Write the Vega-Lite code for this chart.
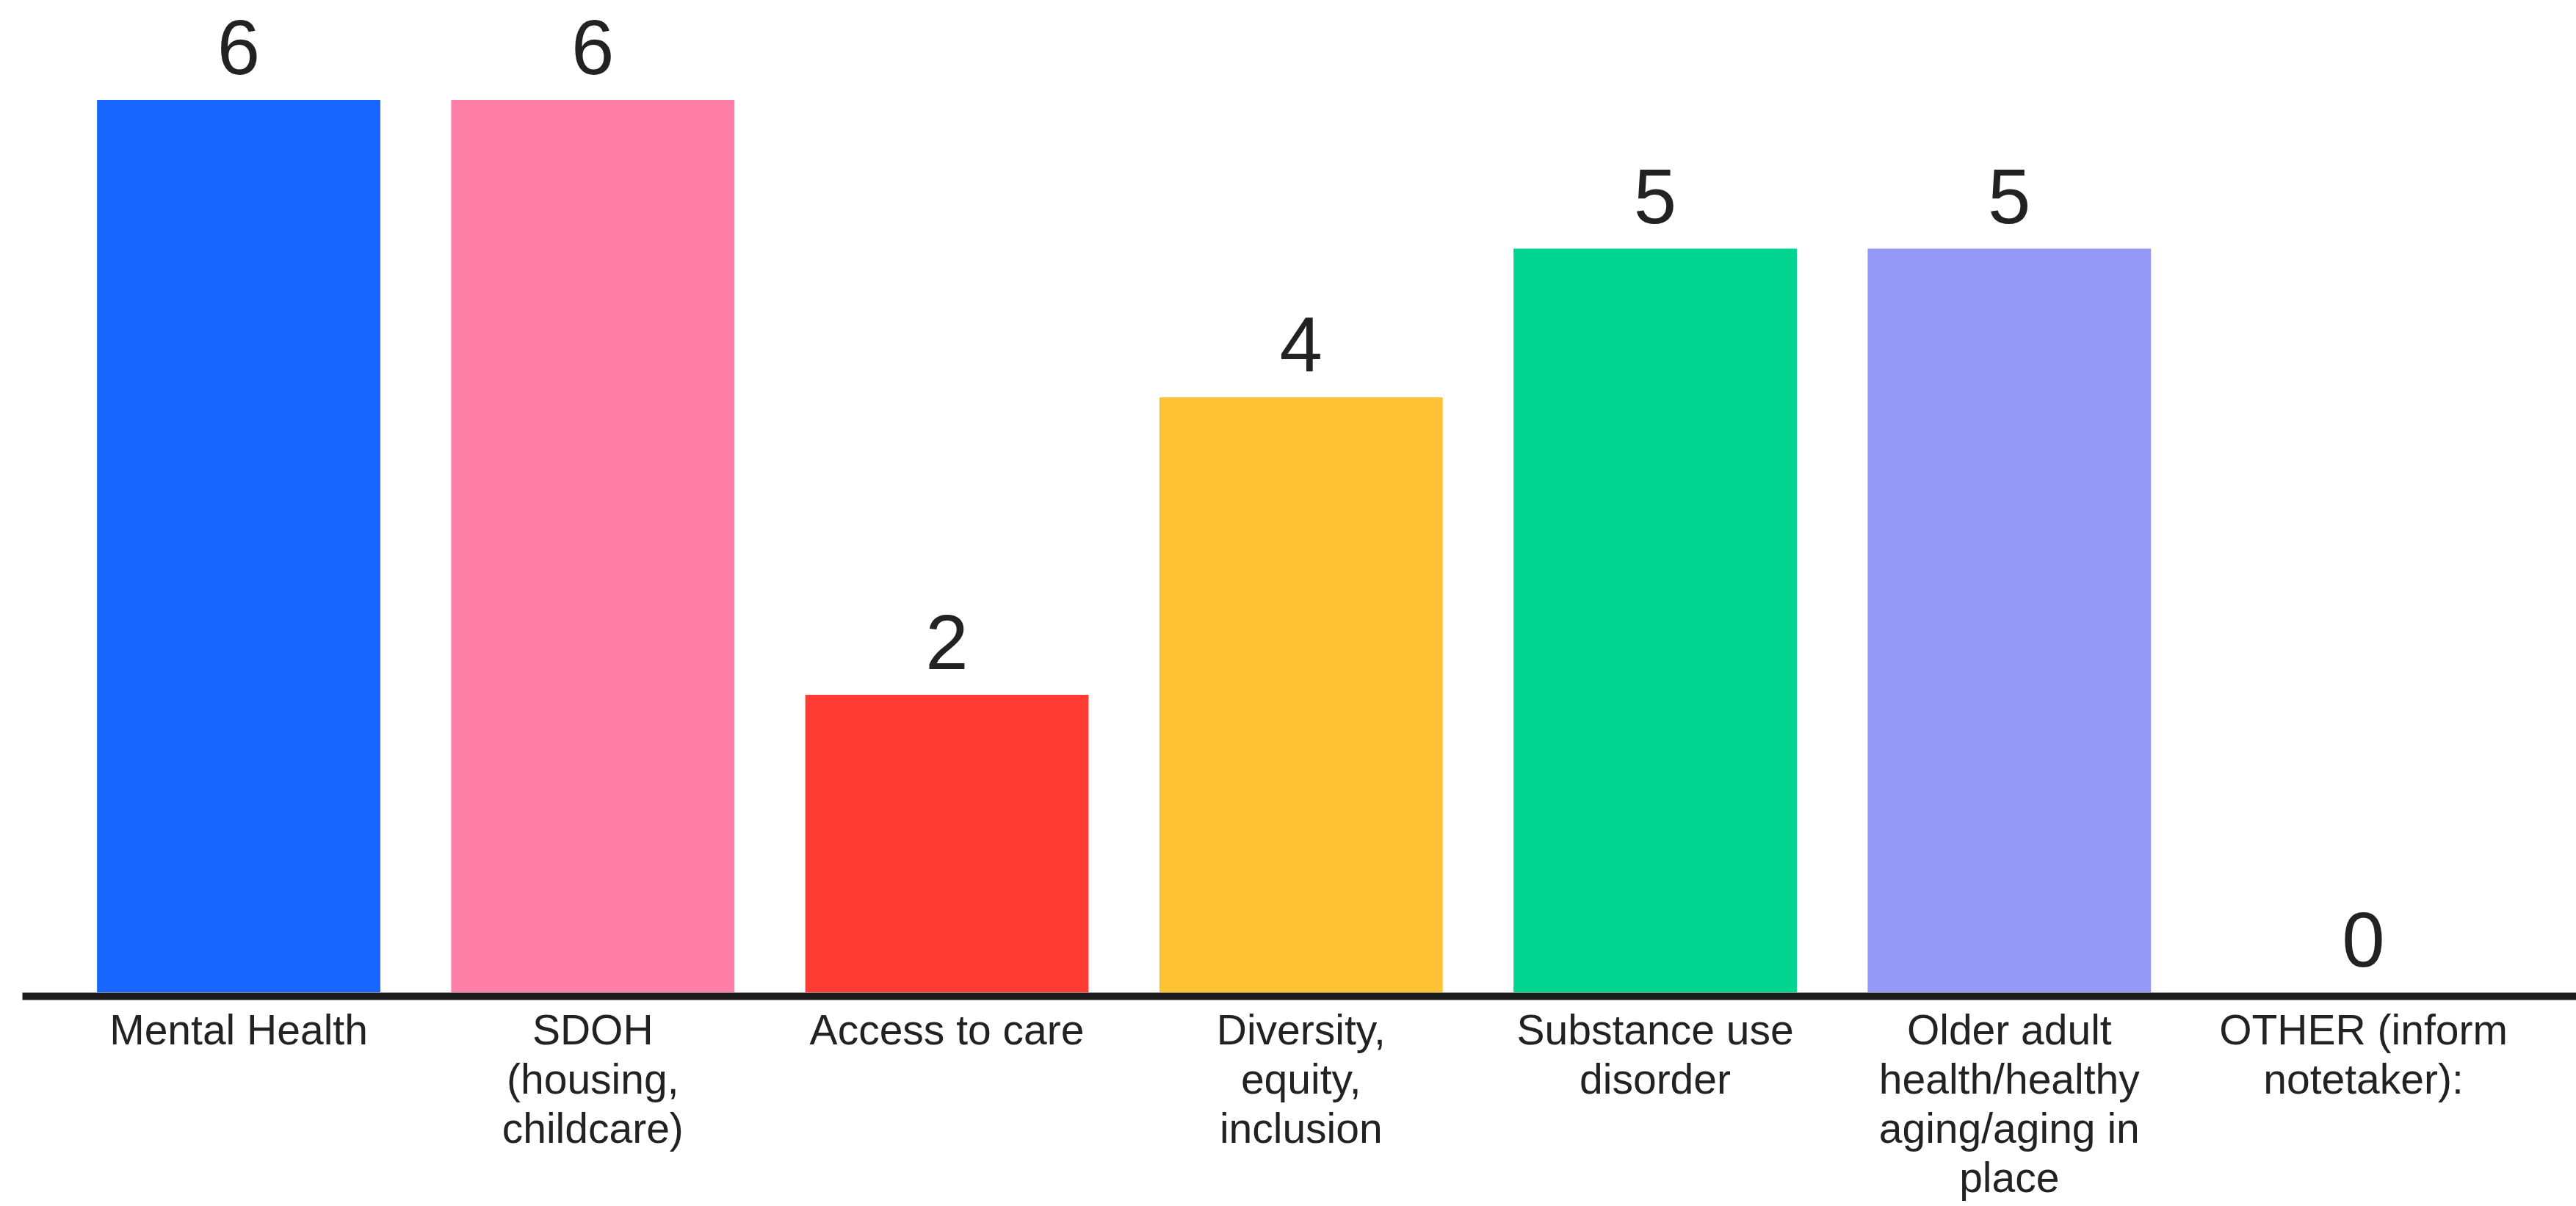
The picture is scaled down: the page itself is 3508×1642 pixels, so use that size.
{
  "$schema": "https://vega.github.io/schema/vega-lite/v6.json",
  "width": 3478,
  "height": 1351,
  "autosize": "none",
  "padding": {"left": 30, "top": 0, "right": 0, "bottom": 291},
  "background": "white",
  "config": {"view": {"stroke": null}},
  "data": {
    "values": [
      {"topic": "Mental Health", "count": 6, "color": "#1966FF"},
      {"topic": "SDOH|(housing,|childcare)", "count": 6, "color": "#FF7FA7"},
      {"topic": "Access to care", "count": 2, "color": "#FF3B33"},
      {"topic": "Diversity,|equity,|inclusion", "count": 4, "color": "#FFC235"},
      {"topic": "Substance use|disorder", "count": 5, "color": "#00D68F"},
      {"topic": "Older adult|health/healthy|aging/aging in|place", "count": 5, "color": "#9499F7"},
      {"topic": "OTHER (inform|notetaker):", "count": 0, "color": "#FFFFFF"}
    ]
  },
  "encoding": {
    "x": {
      "field": "topic",
      "type": "nominal",
      "sort": null,
      "scale": {"paddingInner": 0.2, "paddingOuter": 0.206, "align": 0.514},
      "axis": {
        "title": null,
        "labelAngle": 0,
        "ticks": false,
        "tickSize": 0,
        "offset": 5,
        "domainColor": "#1a1a1a",
        "domainWidth": 10,
        "labelExpr": "split(datum.value, '|')",
        "labelFont": "Liberation Sans",
        "labelFontSize": 57,
        "labelColor": "#222222",
        "labelBaseline": "alphabetic",
        "labelPadding": 65,
        "labelLineHeight": 67,
        "labelLimit": 0,
        "labelOverlap": false,
        "zindex": 1
      }
    },
    "y": {
      "field": "count",
      "type": "quantitative",
      "scale": {"domain": [0, 6.672], "nice": false, "zero": true},
      "axis": null
    }
  },
  "layer": [
    {
      "mark": {"type": "bar"},
      "encoding": {
        "color": {"field": "color", "type": "nominal", "scale": null, "legend": null}
      }
    },
    {
      "mark": {
        "type": "text",
        "font": "Liberation Sans",
        "fontSize": 105,
        "color": "#222222",
        "baseline": "alphabetic",
        "dy": -35
      },
      "encoding": {
        "text": {"field": "count", "type": "quantitative"}
      }
    }
  ]
}
